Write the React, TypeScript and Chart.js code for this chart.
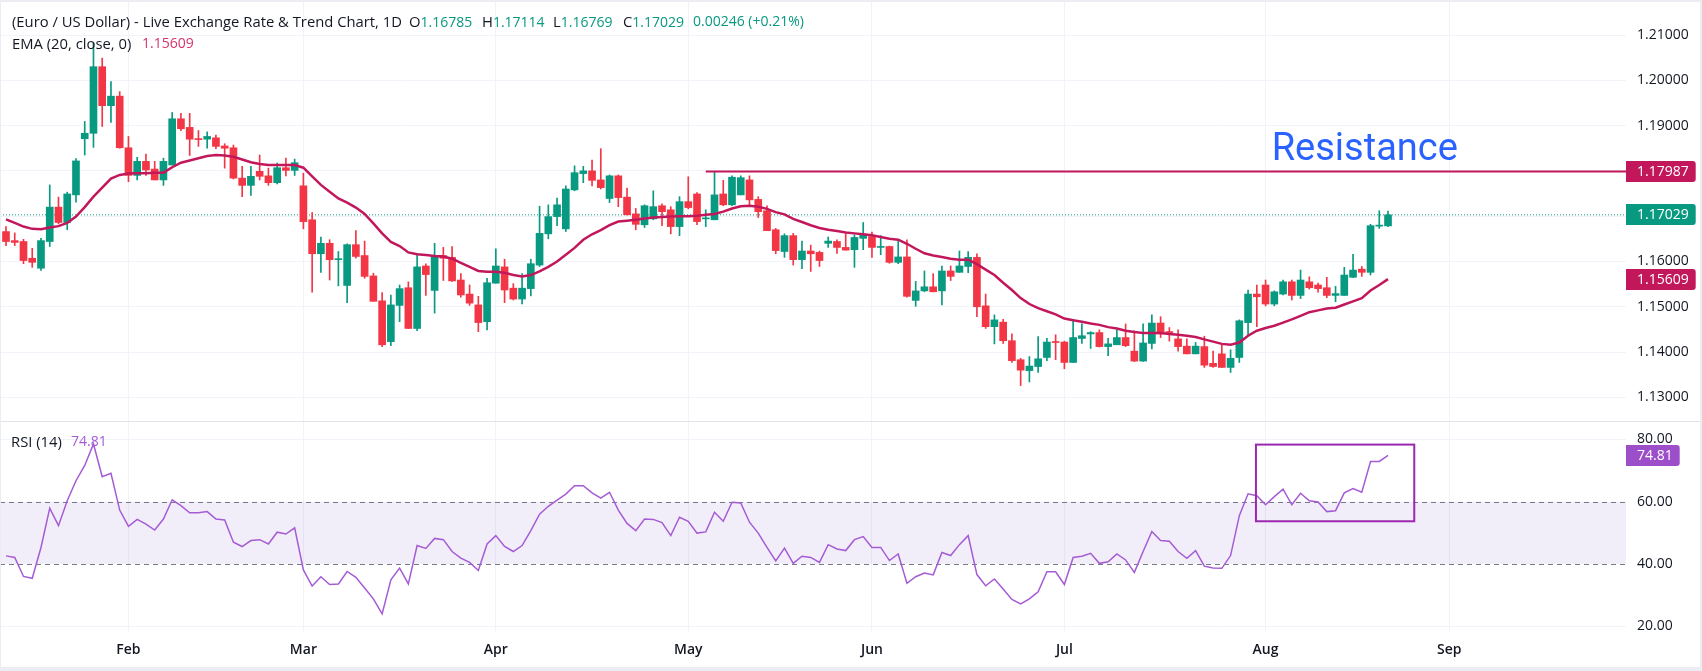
import React, { useEffect, useRef } from "react";
import { Chart, registerables } from "chart.js";

Chart.register(...registerables);

// ---------- data ----------
const OPEN = [
  1.1666, 1.1646, 1.1644, 1.1607, 1.1585, 1.1644, 1.1720, 1.1686, 1.1747, 1.1871,
  1.1883, 1.2030, 1.1944, 1.1965, 1.1851, 1.1790, 1.1821, 1.1804, 1.1780, 1.1813,
  1.1915, 1.1896, 1.1871, 1.1870, 1.1873, 1.1855, 1.1851, 1.1784, 1.1768, 1.1799,
  1.1789, 1.1774, 1.1807, 1.1801, 1.1767, 1.1692, 1.1617, 1.1640, 1.1604, 1.1547,
  1.1637, 1.1613, 1.1568, 1.1513, 1.1423, 1.1503, 1.1542, 1.1452, 1.1590, 1.1536,
  1.1613, 1.1609, 1.1559, 1.1528, 1.1504, 1.1467, 1.1552, 1.1588, 1.1541, 1.1517,
  1.1540, 1.1592, 1.1661, 1.1699, 1.1672, 1.1758, 1.1794, 1.1800, 1.1780, 1.1739,
  1.1789, 1.1742, 1.1705, 1.1681, 1.1694, 1.1723, 1.1714, 1.1677, 1.1732, 1.1749,
  1.1694, 1.1692, 1.1749, 1.1725, 1.1747, 1.1780, 1.1737, 1.1712, 1.1670, 1.1622,
  1.1657, 1.1604, 1.1623, 1.1620, 1.1640, 1.1644, 1.1631, 1.1626, 1.1651, 1.1655,
  1.1631, 1.1633, 1.1598, 1.1610, 1.1514, 1.1535, 1.1544, 1.1535, 1.1579, 1.1576,
  1.1589, 1.1609, 1.1502, 1.1456, 1.1466, 1.1425, 1.1383, 1.1359, 1.1368, 1.1388,
  1.1423, 1.1422, 1.1377, 1.1430, 1.1440, 1.1443, 1.1412, 1.1416, 1.1432, 1.1402,
  1.1380, 1.1419, 1.1464, 1.1445, 1.1429, 1.1413, 1.1396, 1.1412, 1.1375, 1.1396,
  1.1366, 1.1388, 1.1465, 1.1528, 1.1548, 1.1506, 1.1528, 1.1555, 1.1525, 1.1555,
  1.1548, 1.1542, 1.1525, 1.1525, 1.1565, 1.1583, 1.1576, 1.1678, 1.16785,
];
const HIGH = [
  1.1677, 1.1663, 1.1649, 1.1629, 1.1651, 1.1769, 1.1742, 1.1753, 1.1827, 1.1909,
  1.2082, 1.2049, 1.1997, 1.1975, 1.1876, 1.1830, 1.1837, 1.1821, 1.1828, 1.1929,
  1.1927, 1.1927, 1.1889, 1.1886, 1.1879, 1.1860, 1.1857, 1.1810, 1.1810, 1.1835,
  1.1806, 1.1817, 1.1828, 1.1826, 1.1795, 1.1708, 1.1654, 1.1648, 1.1622, 1.1639,
  1.1668, 1.1645, 1.1574, 1.1531, 1.1526, 1.1548, 1.1555, 1.1617, 1.1595, 1.1640,
  1.1631, 1.1633, 1.1573, 1.1548, 1.1523, 1.1563, 1.1628, 1.1605, 1.1551, 1.1573,
  1.1605, 1.1722, 1.1725, 1.1740, 1.1767, 1.1811, 1.1810, 1.1824, 1.1849, 1.1791,
  1.1791, 1.1762, 1.1717, 1.1725, 1.1756, 1.1727, 1.1721, 1.1743, 1.1787, 1.1752,
  1.1714, 1.1799, 1.1779, 1.1789, 1.1789, 1.1789, 1.1743, 1.1723, 1.1673, 1.1661,
  1.1662, 1.1645, 1.1636, 1.1623, 1.1654, 1.1648, 1.1661, 1.1659, 1.1686, 1.1665,
  1.1657, 1.1634, 1.1648, 1.1648, 1.1556, 1.1579, 1.1573, 1.1590, 1.1590, 1.1623,
  1.1622, 1.1617, 1.1528, 1.1482, 1.1472, 1.1440, 1.1386, 1.1390, 1.1434, 1.1430,
  1.1438, 1.1424, 1.1472, 1.1462, 1.1445, 1.1449, 1.1430, 1.1449, 1.1462, 1.1447,
  1.1462, 1.1482, 1.1478, 1.1454, 1.1449, 1.1429, 1.1421, 1.1435, 1.1402, 1.1416,
  1.1405, 1.1471, 1.1537, 1.1548, 1.1559, 1.1535, 1.1559, 1.1559, 1.1581, 1.1566,
  1.1552, 1.1565, 1.1545, 1.1587, 1.1616, 1.1589, 1.1682, 1.1712, 1.17114,
];
const LOW = [
  1.1635, 1.1635, 1.1595, 1.1587, 1.1580, 1.1633, 1.1683, 1.1670, 1.1731, 1.1835,
  1.1852, 1.1898, 1.1907, 1.1850, 1.1776, 1.1780, 1.1790, 1.1780, 1.1768, 1.1813,
  1.1889, 1.1834, 1.1854, 1.1850, 1.1849, 1.1806, 1.1782, 1.1743, 1.1746, 1.1780,
  1.1768, 1.1771, 1.1789, 1.1790, 1.1672, 1.1532, 1.1576, 1.1559, 1.1546, 1.1509,
  1.1607, 1.1563, 1.1512, 1.1412, 1.1414, 1.1467, 1.1452, 1.1447, 1.1525, 1.1486,
  1.1558, 1.1556, 1.1521, 1.1503, 1.1445, 1.1449, 1.1552, 1.1509, 1.1515, 1.1506,
  1.1524, 1.1589, 1.1650, 1.1679, 1.1666, 1.1756, 1.1774, 1.1767, 1.1760, 1.1730,
  1.1721, 1.1703, 1.1670, 1.1675, 1.1692, 1.1679, 1.1661, 1.1657, 1.1716, 1.1681,
  1.1677, 1.1692, 1.1723, 1.1723, 1.1747, 1.1725, 1.1697, 1.1668, 1.1617, 1.1609,
  1.1592, 1.1584, 1.1578, 1.1589, 1.1631, 1.1618, 1.1625, 1.1587, 1.1626, 1.1609,
  1.1615, 1.1596, 1.1595, 1.1521, 1.1501, 1.1533, 1.1533, 1.1504, 1.1558, 1.1576,
  1.1575, 1.1478, 1.1452, 1.1418, 1.1419, 1.1377, 1.1326, 1.1334, 1.1355, 1.1381,
  1.1383, 1.1363, 1.1377, 1.1419, 1.1408, 1.1411, 1.1392, 1.1416, 1.1412, 1.1379,
  1.1379, 1.1407, 1.1432, 1.1424, 1.1402, 1.1396, 1.1396, 1.1366, 1.1366, 1.1366,
  1.1355, 1.1377, 1.1436, 1.1456, 1.1502, 1.1502, 1.1526, 1.1515, 1.1518, 1.1539,
  1.1532, 1.1520, 1.1511, 1.1525, 1.1565, 1.1567, 1.1570, 1.1673, 1.16769,
];
const CLOSE = [
  1.1644, 1.1642, 1.1602, 1.1598, 1.1646, 1.1720, 1.1686, 1.1749, 1.1822, 1.1883,
  1.2030, 1.1944, 1.1965, 1.1851, 1.1790, 1.1821, 1.1802, 1.1780, 1.1821, 1.1915,
  1.1893, 1.1870, 1.1869, 1.1876, 1.1854, 1.1850, 1.1784, 1.1768, 1.1788, 1.1788,
  1.1774, 1.1807, 1.1801, 1.1818, 1.1688, 1.1617, 1.1640, 1.1604, 1.1606, 1.1637,
  1.1611, 1.1567, 1.1512, 1.1416, 1.1504, 1.1540, 1.1452, 1.1588, 1.1571, 1.1613,
  1.1607, 1.1557, 1.1526, 1.1508, 1.1465, 1.1553, 1.1590, 1.1537, 1.1517, 1.1541,
  1.1595, 1.1662, 1.1699, 1.1725, 1.1760, 1.1796, 1.1800, 1.1779, 1.1763, 1.1789,
  1.1741, 1.1703, 1.1682, 1.1723, 1.1721, 1.1710, 1.1677, 1.1732, 1.1719, 1.1688,
  1.1695, 1.1747, 1.1725, 1.1786, 1.1785, 1.1736, 1.1710, 1.1668, 1.1624, 1.1657,
  1.1604, 1.1623, 1.1617, 1.1602, 1.1645, 1.1631, 1.1625, 1.1653, 1.1660, 1.1631,
  1.1633, 1.1598, 1.1610, 1.1523, 1.1535, 1.1544, 1.1533, 1.1579, 1.1567, 1.1590,
  1.1609, 1.1500, 1.1456, 1.1471, 1.1425, 1.1381, 1.1360, 1.1369, 1.1385, 1.1422,
  1.1421, 1.1377, 1.1432, 1.1436, 1.1443, 1.1412, 1.1418, 1.1432, 1.1414, 1.1380,
  1.1420, 1.1464, 1.1440, 1.1443, 1.1412, 1.1396, 1.1413, 1.1371, 1.1368, 1.1366,
  1.1386, 1.1469, 1.1528, 1.1522, 1.1506, 1.1533, 1.1555, 1.1525, 1.1559, 1.1542,
  1.1540, 1.1525, 1.1529, 1.1570, 1.1581, 1.1576, 1.1679, 1.16783, 1.17029,
];
const EMA20 = [
  1.1693, 1.1685, 1.1677, 1.1672, 1.1671, 1.1675, 1.1678, 1.1685, 1.1699, 1.1720,
  1.1743, 1.1763, 1.1783, 1.1791, 1.1794, 1.1795, 1.1795, 1.1796, 1.1796, 1.1808,
  1.1818, 1.1823, 1.1828, 1.1833, 1.1835, 1.1834, 1.1831, 1.1825, 1.1819, 1.1815,
  1.1813, 1.1813, 1.1813, 1.1813, 1.1807, 1.1788, 1.1769, 1.1754, 1.1739, 1.1730,
  1.1719, 1.1705, 1.1684, 1.1662, 1.1643, 1.1634, 1.1620, 1.1616, 1.1614, 1.1612,
  1.1611, 1.1606, 1.1597, 1.1588, 1.1579, 1.1577, 1.1577, 1.1575, 1.1570, 1.1567,
  1.1570, 1.1578, 1.1588, 1.1600, 1.1615, 1.1630, 1.1648, 1.1660, 1.1669, 1.1680,
  1.1688, 1.1690, 1.1692, 1.1695, 1.1697, 1.1698, 1.1699, 1.1700, 1.1700, 1.1701,
  1.1703, 1.1705, 1.1710, 1.1717, 1.1722, 1.1723, 1.1721, 1.1716, 1.1709, 1.1704,
  1.1694, 1.1687, 1.1680, 1.1674, 1.1670, 1.1667, 1.1664, 1.1662, 1.1660, 1.1658,
  1.1654, 1.1650, 1.1648, 1.1639, 1.1628, 1.1618, 1.1613, 1.1610, 1.1606, 1.1604,
  1.1604, 1.1594, 1.1582, 1.1570, 1.1553, 1.1537, 1.1519, 1.1506, 1.1497, 1.1490,
  1.1483, 1.1474, 1.1470, 1.1467, 1.1463, 1.1460, 1.1455, 1.1452, 1.1447, 1.1444,
  1.1442, 1.1442, 1.1442, 1.1440, 1.1438, 1.1436, 1.1433, 1.1428, 1.1423, 1.1418,
  1.1416, 1.1421, 1.1436, 1.1447, 1.1453, 1.1458, 1.1465, 1.1472, 1.1480, 1.1488,
  1.1492, 1.1496, 1.1498, 1.1505, 1.1512, 1.1519, 1.1536, 1.1548, 1.15609,
];
const RSI14 = [
  42.6, 42.1, 36.0, 35.4, 45.3, 57.9, 52.3, 60.3, 66.7, 71.6,
  78.5, 68.0, 69.1, 57.3, 52.1, 54.3, 52.8, 50.9, 54.4, 60.6,
  58.7, 56.4, 56.4, 56.8, 54.4, 54.1, 47.0, 45.6, 47.5, 47.8,
  46.4, 50.2, 49.6, 51.6, 38.1, 32.9, 35.9, 33.4, 33.6, 37.6,
  35.7, 32.3, 28.8, 24.0, 34.9, 38.7, 33.6, 45.9, 45.0, 48.2,
  47.8, 44.0, 41.9, 40.5, 37.9, 46.4, 49.1, 45.6, 44.0, 45.9,
  50.7, 56.0, 58.5, 60.5, 62.4, 65.1, 65.1, 62.8, 61.1, 63.0,
  57.3, 53.0, 50.7, 54.4, 54.3, 53.3, 49.1, 55.0, 53.7, 49.9,
  50.3, 56.6, 53.7, 59.8, 59.6, 53.4, 49.9, 45.3, 41.0, 45.1,
  40.2, 42.5, 42.1, 40.5, 46.2, 44.8, 44.3, 47.8, 48.8, 45.3,
  45.3, 41.1, 43.2, 33.8, 35.9, 37.1, 36.5, 43.7, 42.7, 46.2,
  49.1, 36.6, 33.0, 35.2, 32.0, 28.6, 27.2, 28.8, 31.1, 37.5,
  37.5, 33.4, 42.1, 42.5, 43.4, 40.2, 40.7, 43.2, 41.3, 37.3,
  44.0, 50.4, 47.5, 47.3, 44.0, 41.8, 44.3, 39.3, 38.7, 38.6,
  42.7, 55.5, 62.5, 61.9, 59.0, 61.6, 64.0, 59.0, 62.7, 60.3,
  59.9, 56.8, 57.1, 62.8, 64.2, 63.0, 72.9, 72.9, 74.81,
];
const MONTH_LABELS = ["Feb", "Mar", "Apr", "May", "Jun", "Jul", "Aug", "Sep"];
const MONTH_INDEX = [14, 34, 56, 78, 99, 121, 144, 165];
const PRICE_TICKS = [1.13, 1.14, 1.15, 1.16, 1.17, 1.18, 1.19, 1.2, 1.21];
const RSI_TICKS = [20, 40, 60, 80];
const RESISTANCE = 1.17987;
const RESISTANCE_START = 80;
const RESISTANCE_TEXT = "Resistance";
const RESISTANCE_TEXT_AT = { x: 144.7, y: 1.1824 };
const RSI_UPPER = 60;
const RSI_LOWER = 40;
const RSI_BOX = { x0: 142.9, x1: 161.0, y0: 53.7, y1: 78.3 };
const TITLE = "(Euro / US Dollar) - Live Exchange Rate & Trend Chart, 1D";

// ---------- layout & style ----------
const W = 1702;
const H = 671;
const PLOT_RIGHT = 1626;
const AXIS_W = W - PLOT_RIGHT;
const BAR_SPACING = 8.747;
const FIRST_BAR_X = 6;
const X_MIN = -FIRST_BAR_X / BAR_SPACING;
const X_MAX = (PLOT_RIGHT - FIRST_BAR_X) / BAR_SPACING;
const MAIN_H = 421;
const RSI_TOP = 422;
const RSI_H = 245;
const RSI_PLOT_H = 209.7;

const UP = "#089981";
const DOWN = "#F23645";
const EMA_COLOR = "#C2185B";
const RSI_COLOR = "#A55BD4";
const BOX_COLOR = "#9C27B0";
const GRID = "#F0F3FA";
const TEXT = "#131722";
const FONT = "'Open Sans', Roboto, sans-serif";
const BIG_FONT = "Roboto, 'Open Sans', sans-serif";
const WORD_SIZE = 14.8;

const LAST = CLOSE.length - 1;

function drawBadge(ctx: CanvasRenderingContext2D, x: number, y: number, text: string, bg: string) {
  ctx.save();
  ctx.font = `14px ${FONT}`;
  const w = ctx.measureText(text).width + 18;
  const h = 21;
  ctx.fillStyle = bg;
  ctx.beginPath();
  const top = Math.round(y - h / 2);
  if ((ctx as any).roundRect) (ctx as any).roundRect(x, top, w, h, [0, 3, 3, 0]);
  else ctx.rect(x, top, w, h);
  ctx.fill();
  ctx.fillStyle = "#FFFFFF";
  ctx.textAlign = "left";
  ctx.textBaseline = "middle";
  ctx.fillText(text, x + 11, top + h / 2 + 0.5);
  ctx.restore();
}

const setTicks = (values: number[]) => (axis: any) => {
  axis.ticks = values.map((v) => ({ value: v }));
};

function noPadding(axis: any) {
  axis.paddingTop = 0;
  axis.paddingBottom = 0;
  axis.paddingLeft = 0;
  axis.paddingRight = 0;
}

function makeMainChart(canvas: HTMLCanvasElement) {
  const colors = CLOSE.map((c, i) => (c >= OPEN[i] ? UP : DOWN));
  const overlay = {
    id: "mainOverlay",
    afterDatasetsDraw(chart: any) {
      const { ctx, scales } = chart;
      ctx.save();
      ctx.font = `38px ${BIG_FONT}`;
      ctx.fillStyle = "#2962FF";
      ctx.textAlign = "left";
      ctx.textBaseline = "alphabetic";
      ctx.fillText(
        RESISTANCE_TEXT,
        scales.x.getPixelForValue(RESISTANCE_TEXT_AT.x),
        scales.y.getPixelForValue(RESISTANCE_TEXT_AT.y)
      );
      ctx.restore();
    },
    afterDraw(chart: any) {
      const { ctx, scales, chartArea } = chart;
      drawBadge(ctx, chartArea.right, scales.y.getPixelForValue(RESISTANCE), RESISTANCE.toFixed(5), EMA_COLOR);
      drawBadge(ctx, chartArea.right, scales.y.getPixelForValue(CLOSE[LAST]), CLOSE[LAST].toFixed(5), UP);
      drawBadge(ctx, chartArea.right, scales.y.getPixelForValue(EMA20[LAST]), EMA20[LAST].toFixed(5), EMA_COLOR);
    },
  };
  return new Chart(canvas, {
    type: "bar",
    data: {
      datasets: [
        {
          type: "line",
          data: [
            { x: X_MIN, y: CLOSE[LAST] },
            { x: X_MAX, y: CLOSE[LAST] },
          ],
          borderColor: UP,
          borderWidth: 1,
          borderDash: [1, 2],
          pointRadius: 0,
          order: 5,
        } as any,
        {
          type: "bar",
          data: HIGH.map((h, i) => ({ x: i, y: [LOW[i], h] })),
          backgroundColor: colors,
          barThickness: 1,
          grouped: false,
          order: 4,
        } as any,
        {
          type: "bar",
          data: OPEN.map((o, i) => ({ x: i, y: [o, CLOSE[i]] })),
          backgroundColor: colors,
          barThickness: 7,
          minBarLength: 1,
          grouped: false,
          order: 3,
        } as any,
        {
          type: "line",
          data: EMA20.map((v, i) => ({ x: i, y: v })),
          borderColor: EMA_COLOR,
          borderWidth: 2.5,
          pointRadius: 0,
          tension: 0,
          order: 2,
        } as any,
        {
          type: "line",
          data: [
            { x: RESISTANCE_START, y: RESISTANCE },
            { x: X_MAX, y: RESISTANCE },
          ],
          borderColor: EMA_COLOR,
          borderWidth: 2,
          pointRadius: 0,
          order: 1,
        } as any,
      ],
    },
    options: {
      animation: false,
      responsive: false,
      events: [],
      layout: { padding: 0, autoPadding: false } as any,
      plugins: { legend: { display: false }, tooltip: { enabled: false } },
      scales: {
        x: {
          type: "linear",
          min: X_MIN,
          max: X_MAX,
          bounds: "data",
          offset: false,
          grid: { color: GRID, drawTicks: false, offset: false },
          border: { display: false },
          ticks: { display: false },
          afterBuildTicks: setTicks(MONTH_INDEX),
          afterFit: (axis: any) => {
            axis.height = 0;
            noPadding(axis);
          },
        } as any,
        y: {
          type: "linear",
          position: "right",
          min: 1.124772,
          max: 1.217728,
          bounds: "data",
          grid: { color: GRID, drawTicks: false },
          border: { display: false },
          ticks: {
            padding: 11,
            color: TEXT,
            font: { family: FONT, size: 14 },
            callback: (v: any) => Number(v).toFixed(5),
          },
          afterBuildTicks: setTicks(PRICE_TICKS),
          afterFit: (axis: any) => {
            axis.width = AXIS_W;
            noPadding(axis);
          },
        } as any,
      },
    },
    plugins: [overlay],
  });
}

function makeRsiChart(canvas: HTMLCanvasElement) {
  const overlay = {
    id: "rsiOverlay",
    beforeDatasetsDraw(chart: any) {
      const { ctx, chartArea, scales } = chart;
      const yU = scales.y.getPixelForValue(RSI_UPPER);
      const yL = scales.y.getPixelForValue(RSI_LOWER);
      ctx.save();
      ctx.fillStyle = "rgba(126, 87, 194, 0.1)";
      ctx.fillRect(chartArea.left, yU, chartArea.right - chartArea.left, yL - yU);
      ctx.strokeStyle = "#787B86";
      ctx.lineWidth = 1;
      ctx.setLineDash([5, 4]);
      [yU, yL].forEach((y) => {
        ctx.beginPath();
        ctx.moveTo(chartArea.left, Math.round(y) + 0.5);
        ctx.lineTo(chartArea.right, Math.round(y) + 0.5);
        ctx.stroke();
      });
      ctx.restore();
    },
    afterDatasetsDraw(chart: any) {
      const { ctx, scales } = chart;
      const x0 = scales.x.getPixelForValue(RSI_BOX.x0);
      const x1 = scales.x.getPixelForValue(RSI_BOX.x1);
      const y0 = scales.y.getPixelForValue(RSI_BOX.y1);
      const y1 = scales.y.getPixelForValue(RSI_BOX.y0);
      ctx.save();
      ctx.strokeStyle = BOX_COLOR;
      ctx.lineWidth = 2;
      ctx.strokeRect(x0, y0, x1 - x0, y1 - y0);
      ctx.restore();
    },
    afterDraw(chart: any) {
      const { ctx, scales, chartArea } = chart;
      drawBadge(ctx, chartArea.right, scales.y.getPixelForValue(RSI14[LAST]), RSI14[LAST].toFixed(2), "#9C4FC9");
    },
  };
  return new Chart(canvas, {
    type: "line",
    data: {
      datasets: [
        {
          data: RSI14.map((v, i) => ({ x: i, y: v })),
          borderColor: RSI_COLOR,
          borderWidth: 1.5,
          pointRadius: 0,
          tension: 0,
        },
      ],
    },
    options: {
      animation: false,
      responsive: false,
      events: [],
      layout: { padding: 0, autoPadding: false } as any,
      plugins: { legend: { display: false }, tooltip: { enabled: false } },
      scales: {
        x: {
          type: "linear",
          min: X_MIN,
          max: X_MAX,
          bounds: "data",
          grid: { color: GRID, drawTicks: false },
          border: { display: false },
          ticks: {
            autoSkip: false,
            maxRotation: 0,
            padding: 10,
            color: TEXT,
            font: { family: FONT, size: 14, weight: "600" },
            callback: (v: any) => {
              const k = MONTH_INDEX.indexOf(Number(v));
              return k >= 0 ? MONTH_LABELS[k] : "";
            },
          },
          afterBuildTicks: setTicks(MONTH_INDEX),
          afterFit: (axis: any) => {
            axis.height = RSI_H - RSI_PLOT_H;
            noPadding(axis);
          },
        } as any,
        y: {
          type: "linear",
          position: "right",
          min: 18.27,
          max: 85.55,
          bounds: "data",
          grid: {
            color: (c: any) => (c.tick && (c.tick.value === RSI_UPPER || c.tick.value === RSI_LOWER) ? "rgba(0,0,0,0)" : GRID),
            drawTicks: false,
          },
          border: { display: false },
          ticks: {
            padding: 11,
            color: TEXT,
            font: { family: FONT, size: 14 },
            callback: (v: any) => Number(v).toFixed(2),
          },
          afterBuildTicks: setTicks(RSI_TICKS),
          afterFit: (axis: any) => {
            axis.width = AXIS_W;
            noPadding(axis);
          },
        } as any,
      },
    },
    plugins: [overlay],
  });
}

const abs = (left: number, top: number): React.CSSProperties => ({
  position: "absolute",
  left,
  top,
  whiteSpace: "nowrap",
  lineHeight: "20px",
  fontSize: 14,
  fontFamily: FONT,
  color: TEXT,
});

const word: React.CSSProperties = { fontSize: WORD_SIZE };

export default function App() {
  const mainRef = useRef<HTMLCanvasElement>(null);
  const rsiRef = useRef<HTMLCanvasElement>(null);

  useEffect(() => {
    let main: Chart | null = null;
    let rsi: Chart | null = null;
    let cancelled = false;
    const build = () => {
      if (cancelled || !mainRef.current || !rsiRef.current) return;
      main = makeMainChart(mainRef.current);
      rsi = makeRsiChart(rsiRef.current);
    };
    const fonts = (document as any).fonts;
    if (fonts && fonts.load) {
      Promise.all([
        fonts.load(`14px 'Open Sans'`),
        fonts.load(`600 14px 'Open Sans'`),
        fonts.load(`38px Roboto`),
      ])
        .catch(() => null)
        .then(build);
    } else build();
    return () => {
      cancelled = true;
      if (main) main.destroy();
      if (rsi) rsi.destroy();
    };
  }, []);

  const prevClose = CLOSE[LAST - 1];
  const change = CLOSE[LAST] - prevClose;
  const pct = (change / prevClose) * 100;
  const green = { color: UP };

  return (
    <div style={{ position: "absolute", left: 0, top: 0, width: W, height: H, background: "#FFFFFF", overflow: "hidden" }}>
      <canvas ref={mainRef} width={W} height={MAIN_H} style={{ position: "absolute", left: 0, top: 0, width: W, height: MAIN_H }} />
      <canvas ref={rsiRef} width={W} height={RSI_H} style={{ position: "absolute", left: 0, top: RSI_TOP, width: W, height: RSI_H }} />

      <div style={{ ...abs(12, 11), ...word }}>{TITLE}</div>
      <div style={abs(409, 11)}><span style={word}>O</span><span style={green}>{OPEN[LAST].toFixed(5)}</span></div>
      <div style={abs(482, 11)}><span style={word}>H</span><span style={green}>{HIGH[LAST].toFixed(5)}</span></div>
      <div style={abs(553, 11)}><span style={word}>L</span><span style={green}>{LOW[LAST].toFixed(5)}</span></div>
      <div style={abs(623, 11)}><span style={word}>C</span><span style={green}>{CLOSE[LAST].toFixed(5)}</span></div>
      <div style={{ ...abs(693, 11), ...green }}>
        {change.toFixed(5)} ({pct >= 0 ? "+" : ""}{pct.toFixed(2)}%)
      </div>
      <div style={{ ...abs(12, 33), ...word }}>EMA (20, close, 0)</div>
      <div style={{ ...abs(142, 33), color: "#D6336C" }}>{EMA20[LAST].toFixed(5)}</div>
      <div style={{ ...abs(11, 431), ...word }}>RSI (14)</div>
      <div style={{ ...abs(71, 431), color: "#A55BD4" }}>{RSI14[LAST].toFixed(2)}</div>

      {/* pane separator and outer frame */}
      <div style={{ position: "absolute", left: 0, top: 421, width: W, height: 1, background: "#E0E3EB" }} />
      <div style={{ position: "absolute", left: 0, top: 0, width: W, height: 2, background: "#EBEDF2" }} />
      <div style={{ position: "absolute", left: 0, top: 667, width: W, height: 4, background: "#EBEDF2" }} />
      <div style={{ position: "absolute", left: 0, top: 0, width: 1, height: H, background: "#EBEDF2" }} />
      <div style={{ position: "absolute", left: 1700, top: 0, width: 2, height: H, background: "#EBEDF2" }} />
    </div>
  );
}
